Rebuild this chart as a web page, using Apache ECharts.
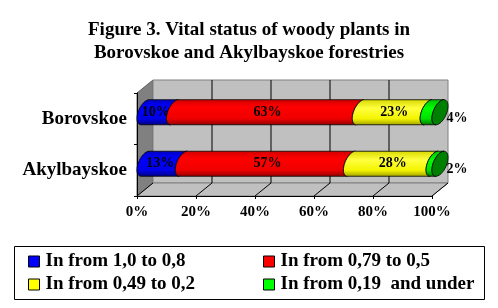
<!DOCTYPE html>
<html>
<head>
<meta charset="utf-8">
<script src="https://cdn.jsdelivr.net/npm/echarts@6/dist/echarts.min.js"></script>
<style>html,body{margin:0;padding:0;background:#fff;}#chart{width:498px;height:308px;}</style>
</head>
<body>
<div id="chart"></div>
<script>
// ---- data ----
const categories = ['Akylbayskoe', 'Borovskoe'];
const seriesNames = ['In from 1,0 to 0,8', 'In from 0,79 to 0,5', 'In from 0,49 to 0,2', 'In from 0,19  and under'];
const s1 = [13, 10];
const s2 = [57, 63];
const s3 = [28, 23];
const s4 = [2, 4];
const xTicks = [0, 20, 40, 60, 80, 100];
const tickLabels = ['0%', '20%', '40%', '60%', '80%', '100%'];

// ---- style ----
const FONT = '"Liberation Serif", "Times New Roman", serif';
const DX = 16, DY = -13; // depth offset
const baseColors = ['#0000ff', '#ff0000', '#ffff00', '#00ff00'];
const gradStops = [
  [[0, '#0000c0'], [0.3, '#0000ff'], [0.75, '#0000e8'], [1, '#000080']],
  [[0, '#d00000'], [0.3, '#ff0000'], [0.75, '#ee0000'], [1, '#900000']],
  [[0, '#d8d800'], [0.35, '#ffff40'], [0.75, '#f4f400'], [1, '#a0a000']],
  [[0, '#00c000'], [0.35, '#00ff00'], [0.75, '#00e000'], [1, '#007000']]
];
const allSeries = [s1, s2, s3, s4];

function ellPts(cx, cy, rx, ry, a, t0, t1, n) {
  const pts = [];
  for (let i = 0; i <= n; i++) {
    const t = t0 + (t1 - t0) * i / n;
    pts.push([cx + rx * Math.cos(t) - a * Math.sin(t), cy + ry * Math.sin(t)]);
  }
  return pts;
}

function makeData(k) {
  return categories.map((c, i) => {
    let start = 0;
    for (let j = 0; j < k; j++) start += allSeries[j][i];
    return [start, start + allSeries[k][i], i, allSeries[k][i]];
  });
}

function segRender(k) {
  return function (params, api) {
    const s = api.value(0), e = api.value(1), ci = api.value(2), v = api.value(3);
    const p0 = api.coord([s, ci]);
    const p1 = api.coord([e, ci]);
    const band = api.size([0, 1])[1];
    const cy = p0[1] + DY / 2;
    const x0 = p0[0] + DX / 2, x1 = p1[0] + DX / 2;
    const ry = band * 0.243, rx = 7, a = 4;
    const left = ellPts(x0, cy, rx, ry, a, -Math.PI / 2, -3 * Math.PI / 2, 24);
    const right = ellPts(x1, cy, rx, ry, a, -3 * Math.PI / 2, -Math.PI / 2, 24);
    const children = [{
      type: 'polygon',
      shape: { points: left.concat(right) },
      style: {
        fill: new echarts.graphic.LinearGradient(0, 0, 0, 1, gradStops[k].map(st => ({ offset: st[0], color: st[1] }))),
        stroke: '#000', lineWidth: 0.8
      },
      z2: 1
    }];
    const small = (x1 - x0) < 20;
    let lx = small ? x1 + 17 : (x0 + x1) / 2;
    if (k === 0) lx -= 4;
    children.push({
      type: 'text',
      z2: small ? 2 : 5,
      style: {
        text: v + '%',
        x: lx,
        y: small ? cy + 6 : cy,
        align: 'center', verticalAlign: 'middle',
        font: 'bold 14px ' + FONT, fill: '#000'
      }
    });
    if (k === 3) {
      children.push({
        type: 'polygon',
        z2: 3,
        shape: { points: ellPts(x1, cy, rx, ry, a, 0, 2 * Math.PI, 48) },
        style: { fill: '#008000', stroke: '#000', lineWidth: 0.8 }
      });
    }
    return { type: 'group', children: children };
  };
}

function frameRender(params, api) {
  const cs = params.coordSys;
  const x = cs.x, y = cs.y, w = cs.width, h = cs.height;
  const ch = [];
  ch.push({ type: 'polygon', shape: { points: [[x, y], [x + DX, y + DY], [x + DX, y + h + DY], [x, y + h]] }, style: { fill: '#808080', stroke: '#606060', lineWidth: 1 } });
  ch.push({ type: 'rect', shape: { x: x + DX, y: y + DY, width: w, height: h }, style: { fill: '#c0c0c0', stroke: '#808080', lineWidth: 1 } });
  ch.push({ type: 'polygon', shape: { points: [[x, y + h], [x + DX, y + h + DY], [x + w + DX, y + h + DY], [x + w, y + h]] }, style: { fill: '#c0c0c0', stroke: '#808080', lineWidth: 1 } });
  xTicks.forEach(t => {
    const px = api.coord([t, 0])[0];
    if (t > 0 && t < 100) {
      ch.push({ type: 'line', shape: { x1: px + DX, y1: y + DY, x2: px + DX, y2: y + h + DY }, style: { stroke: '#000', lineWidth: 1 } });
    }
    ch.push({ type: 'line', shape: { x1: px, y1: y + h, x2: px + DX, y2: y + h + DY }, style: { stroke: '#000', lineWidth: 1 } });
  });
  return { type: 'group', children: ch };
}

const chart = echarts.init(document.getElementById('chart'), null, { renderer: 'canvas' });
const series = [{
  type: 'custom', name: 'frame', silent: true, clip: false, z: 0,
  data: [[0, 0]], renderItem: frameRender
}];
seriesNames.forEach((n, k) => {
  series.push({
    type: 'custom', name: n, clip: false, z: 2 + k,
    itemStyle: { color: baseColors[k] },
    encode: { x: [0, 1], y: 2 },
    data: makeData(k),
    renderItem: segRender(k)
  });
});

const legendCommon = {
  orient: 'vertical', padding: 0,
  itemWidth: 11, itemHeight: 11, itemGap: 4, icon: 'rect',
  itemStyle: { borderColor: '#000', borderWidth: 1 },
  textStyle: { fontFamily: FONT, fontSize: 19, fontWeight: 'bold', color: '#000', padding: [0, 0, 0, 1] }
};

chart.setOption({
  animation: false,
  backgroundColor: '#fff',
  title: {
    text: 'Figure 3. Vital status of woody plants in\nBorovskoe and Akylbayskoe forestries',
    left: 'center', top: 14,
    textStyle: { fontFamily: FONT, fontSize: 19, fontWeight: 'bold', color: '#000', lineHeight: 23 }
  },
  grid: { left: 137, right: 66, top: 93, bottom: 112, containLabel: false },
  xAxis: {
    type: 'value', min: 0, max: 100, interval: 20,
    axisLine: { show: true, lineStyle: { color: '#000', width: 1 } },
    axisTick: { show: true, length: 3, lineStyle: { color: '#000' } },
    splitLine: { show: false },
    axisLabel: { margin: 9, fontFamily: FONT, fontSize: 15, fontWeight: 'bold', color: '#000',
      formatter: v => tickLabels[xTicks.indexOf(v)] }
  },
  yAxis: {
    type: 'category', data: categories,
    axisLine: { show: true, lineStyle: { color: '#000', width: 1 } },
    axisTick: { show: true, length: 3, lineStyle: { color: '#000' } },
    splitLine: { show: false },
    axisLabel: { margin: 10, fontFamily: FONT, fontSize: 19, fontWeight: 'bold', color: '#000' }
  },
  legend: [
    Object.assign({ data: [seriesNames[0], seriesNames[2]], left: 28, top: 252 }, legendCommon),
    Object.assign({ data: [seriesNames[1], seriesNames[3]], left: 263, top: 252 }, legendCommon)
  ],
  graphic: [{
    type: 'rect', left: 14, top: 246, z: -1,
    shape: { width: 470, height: 53 },
    style: { fill: '#fff', stroke: '#000', lineWidth: 1 }
  }],
  series: series
});
</script>
</body>
</html>
